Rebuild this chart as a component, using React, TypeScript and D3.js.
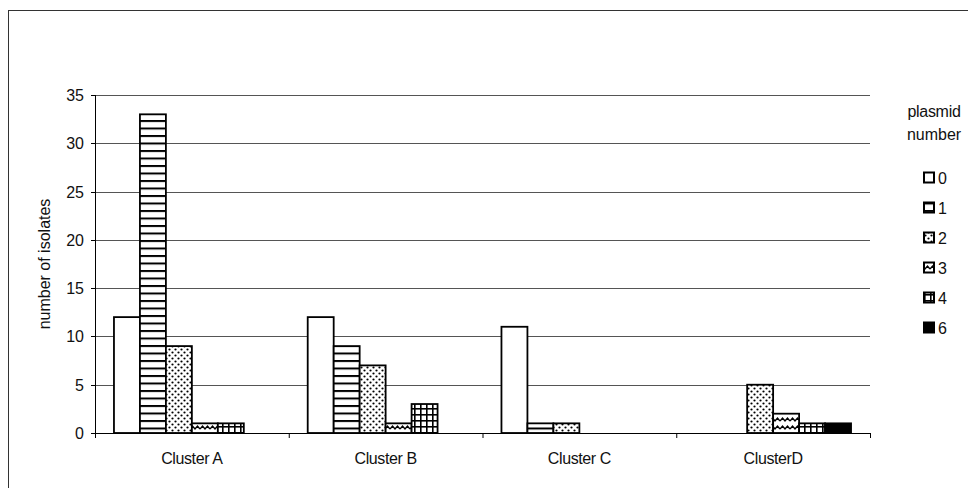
import React from "react";
import * as d3 from "d3";

const categories = ["Cluster A", "Cluster B", "Cluster C", "ClusterD"];
const seriesNames = ["0", "1", "2", "3", "4", "6"];
// values[series][category]
const plasmid0 = [12, 12, 11, 0];
const plasmid1 = [33, 9, 1, 0];
const plasmid2 = [9, 7, 1, 5];
const plasmid3 = [1, 1, 0, 2];
const plasmid4 = [1, 3, 0, 1];
const plasmid6 = [0, 0, 0, 1];
const seriesValues = [plasmid0, plasmid1, plasmid2, plasmid3, plasmid4, plasmid6];
const yTicks = [0, 5, 10, 15, 20, 25, 30, 35];

const W = 968;
const H = 488;
const plot = { left: 95, right: 870, top: 95, bottom: 433 };
const fills = ["#fff", "url(#pHoriz)", "url(#pDots)", "url(#pWave)", "url(#pGrid)", "#000"];
const font = "'Liberation Sans', Arial, sans-serif";

export default function App() {
  const x = d3.scaleBand<string>().domain(categories).range([plot.left, plot.right]).padding(0);
  const xs = d3
    .scaleBand<string>()
    .domain(seriesNames)
    .range([0, x.bandwidth()])
    .paddingInner(0)
    .paddingOuter(0.73);
  const y = d3.scaleLinear().domain([0, 35]).range([plot.bottom, plot.top]);

  const boundaries = [...categories.map((c) => x(c)!), plot.right];

  return (
    <svg
      width={W}
      height={H}
      style={{ position: "absolute", left: 0, top: 0, background: "#fff" }}
      fontFamily={font}
    >
      <defs>
        <pattern id="pHoriz" patternUnits="userSpaceOnUse" width={8} height={7.5}>
          <rect width={8} height={7.5} fill="#fff" />
          <rect y={0} width={8} height={2} fill="#000" />
        </pattern>
        <pattern id="pDots" patternUnits="userSpaceOnUse" width={6} height={6}>
          <rect width={6} height={6} fill="#fff" />
          <circle cx={1.5} cy={1.5} r={1.1} fill="#000" />
          <circle cx={4.5} cy={4.5} r={1.1} fill="#000" />
        </pattern>
        <pattern id="pWave" patternUnits="userSpaceOnUse" width={10} height={8}>
          <rect width={10} height={8} fill="#fff" />
          <path d="M0,5 L2.5,2 L5,5 L7.5,2 L10,5" fill="none" stroke="#000" strokeWidth={1.4} />
        </pattern>
        <pattern id="pGrid" patternUnits="userSpaceOnUse" width={6} height={6}>
          <rect width={6} height={6} fill="#fff" />
          <rect x={0} y={0} width={1.6} height={6} fill="#000" />
          <rect x={0} y={0} width={6} height={1.6} fill="#000" />
        </pattern>
      </defs>

      {/* outer frame */}
      <line x1={8.5} y1={10} x2={8.5} y2={H} stroke="#333" strokeWidth={1} />
      <line x1={8} y1={10.5} x2={W} y2={10.5} stroke="#333" strokeWidth={1} />

      {/* gridlines */}
      {yTicks.slice(1).map((t) => (
        <line
          key={t}
          x1={plot.left}
          x2={plot.right}
          y1={Math.round(y(t)) + 0.5}
          y2={Math.round(y(t)) + 0.5}
          stroke="#555"
          strokeWidth={1}
        />
      ))}

      {/* bars */}
      {seriesValues.map((vals, si) =>
        vals.map((v, ci) =>
          v > 0 ? (
            <rect
              key={`${si}-${ci}`}
              x={x(categories[ci])! + xs(seriesNames[si])!}
              y={y(v)}
              width={xs.bandwidth()}
              height={y(0) - y(v)}
              fill={fills[si]}
              stroke="#000"
              strokeWidth={1.8}
            />
          ) : null
        )
      )}

      {/* y axis */}
      <line x1={plot.left + 0.5} x2={plot.left + 0.5} y1={plot.top} y2={plot.bottom} stroke="#000" />
      {yTicks.map((t) => (
        <g key={t}>
          <line
            x1={plot.left - 4}
            x2={plot.left}
            y1={Math.round(y(t)) + 0.5}
            y2={Math.round(y(t)) + 0.5}
            stroke="#000"
          />
          <text x={plot.left - 11} y={y(t) + 6} textAnchor="end" fontSize={16} fill="#111">
            {t}
          </text>
        </g>
      ))}
      <text
        transform={`translate(50,${(plot.top + plot.bottom) / 2}) rotate(-90)`}
        textAnchor="middle"
        fontSize={16}
        fill="#111"
      >
        number of isolates
      </text>

      {/* x axis */}
      <line x1={plot.left} x2={plot.right} y1={plot.bottom + 0.5} y2={plot.bottom + 0.5} stroke="#000" />
      {boundaries.map((b, i) => (
        <line key={i} x1={b + 0.5} x2={b + 0.5} y1={plot.bottom} y2={plot.bottom + 5} stroke="#000" />
      ))}
      {categories.map((c) => (
        <text
          key={c}
          x={x(c)! + x.bandwidth() / 2}
          y={plot.bottom + 31}
          textAnchor="middle"
          fontSize={16}
          fill="#111"
          letterSpacing={-0.4}
        >
          {c}
        </text>
      ))}

      {/* legend */}
      <text x={934} y={117} textAnchor="middle" fontSize={16} fill="#111" letterSpacing={-0.3}>
        plasmid
      </text>
      <text x={934} y={140} textAnchor="middle" fontSize={16} fill="#111">
        number
      </text>
      {seriesNames.map((s, i) => {
        const cy = 177.5 + i * 30;
        return (
          <g key={s}>
            <rect
              x={924}
              y={cy - 5}
              width={10}
              height={10}
              fill={fills[i]}
              stroke="#000"
              strokeWidth={2}
            />
            <text x={938} y={cy + 6} fontSize={16} fill="#111">
              {s}
            </text>
          </g>
        );
      })}
    </svg>
  );
}
